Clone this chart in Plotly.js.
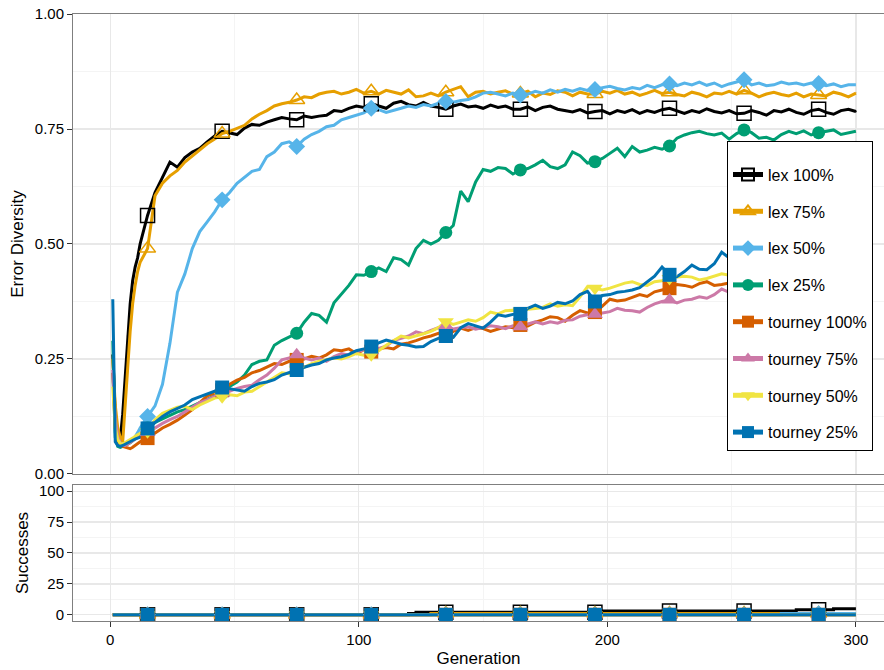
<!DOCTYPE html>
<html><head><meta charset="utf-8">
<script src="https://cdn.plot.ly/plotly-3.0.1.min.js"></script>
<style>html,body{margin:0;padding:0;background:#fff}#chart{width:884px;height:670px}</style>
</head><body><div id="chart"></div>
<script>
// Generations sampled (x values)
const generations = [
  1,2,3,4,5,6,7,8,9,10,
  11,12,15,18,21,24,27,30,33,36,
  39,42,45,48,51,54,57,60,63,66,
  69,72,75,78,81,84,87,90,93,96,
  99,102,105,108,111,114,117,120,123,126,
  129,132,135,138,141,144,147,150,153,156,
  159,162,165,168,171,174,177,180,183,186,
  189,192,195,198,201,204,207,210,213,216,
  219,222,225,228,231,234,237,240,243,246,
  249,252,255,258,261,264,267,270,273,276,
  279,282,285,288,291,294,297,300];

const markerGenerations = [15,45,75,105,135,165,195,225,255,285];

const seriesNames = ['lex 100%','lex 75%','lex 50%','lex 25%','tourney 100%','tourney 75%','tourney 50%','tourney 25%'];

// Error diversity
const divLex100 = [
  0.26,0.13,0.08,0.075,0.13,0.21,0.30,0.37,0.42,0.45,
  0.47,0.50,0.562,0.612,0.645,0.678,0.667,0.688,0.70,0.708,
  0.722,0.735,0.745,0.742,0.738,0.752,0.76,0.758,0.765,0.77,
  0.775,0.772,0.77,0.778,0.775,0.778,0.78,0.79,0.788,0.795,
  0.80,0.797,0.805,0.80,0.795,0.806,0.81,0.803,0.80,0.808,
  0.80,0.797,0.793,0.80,0.804,0.798,0.80,0.795,0.802,0.797,
  0.80,0.793,0.793,0.798,0.79,0.797,0.80,0.793,0.79,0.787,
  0.792,0.785,0.788,0.79,0.783,0.79,0.786,0.792,0.784,0.79,
  0.786,0.792,0.795,0.789,0.784,0.79,0.786,0.794,0.788,0.785,
  0.79,0.783,0.784,0.79,0.786,0.78,0.79,0.787,0.793,0.786,
  0.782,0.79,0.793,0.786,0.782,0.79,0.793,0.788];
const divLex75 = [
  0.25,0.15,0.10,0.08,0.07,0.14,0.23,0.31,0.37,0.41,
  0.44,0.46,0.49,0.605,0.632,0.648,0.66,0.678,0.692,0.705,
  0.718,0.728,0.74,0.745,0.752,0.758,0.772,0.782,0.79,0.80,
  0.805,0.808,0.813,0.82,0.818,0.826,0.83,0.832,0.826,0.83,
  0.836,0.828,0.832,0.826,0.834,0.83,0.826,0.835,0.82,0.822,
  0.828,0.822,0.83,0.836,0.842,0.82,0.83,0.832,0.826,0.83,
  0.833,0.826,0.827,0.832,0.82,0.828,0.825,0.833,0.83,0.822,
  0.83,0.826,0.826,0.832,0.828,0.834,0.826,0.83,0.823,0.828,
  0.834,0.827,0.83,0.825,0.822,0.83,0.826,0.82,0.828,0.826,
  0.832,0.826,0.834,0.828,0.82,0.826,0.83,0.825,0.822,0.828,
  0.82,0.826,0.824,0.822,0.83,0.826,0.82,0.828];
const divLex50 = [
  0.22,0.09,0.07,0.066,0.065,0.067,0.07,0.072,0.076,0.081,
  0.09,0.10,0.125,0.148,0.195,0.284,0.395,0.435,0.49,0.527,
  0.548,0.57,0.596,0.612,0.632,0.645,0.658,0.662,0.69,0.70,
  0.718,0.722,0.712,0.728,0.738,0.745,0.755,0.758,0.77,0.775,
  0.78,0.785,0.795,0.792,0.786,0.79,0.795,0.80,0.797,0.803,
  0.80,0.806,0.81,0.808,0.812,0.814,0.82,0.828,0.83,0.826,
  0.822,0.828,0.824,0.826,0.832,0.828,0.835,0.83,0.836,0.832,
  0.838,0.834,0.836,0.84,0.843,0.838,0.835,0.84,0.837,0.845,
  0.84,0.846,0.848,0.844,0.85,0.846,0.852,0.845,0.85,0.842,
  0.848,0.852,0.857,0.846,0.85,0.844,0.846,0.852,0.848,0.85,
  0.846,0.85,0.849,0.844,0.848,0.842,0.846,0.846];
const divLex25 = [
  0.29,0.08,0.06,0.058,0.06,0.062,0.065,0.068,0.072,0.076,
  0.08,0.085,0.10,0.112,0.12,0.128,0.135,0.14,0.148,0.155,
  0.162,0.17,0.175,0.19,0.20,0.215,0.238,0.245,0.248,0.28,
  0.29,0.298,0.306,0.33,0.349,0.345,0.33,0.372,0.39,0.41,
  0.433,0.432,0.44,0.448,0.44,0.47,0.466,0.454,0.49,0.508,
  0.50,0.508,0.525,0.54,0.615,0.592,0.635,0.662,0.658,0.666,
  0.664,0.652,0.661,0.664,0.672,0.682,0.668,0.664,0.672,0.70,
  0.692,0.676,0.679,0.686,0.697,0.708,0.69,0.712,0.70,0.704,
  0.71,0.706,0.713,0.73,0.737,0.742,0.745,0.74,0.737,0.741,
  0.728,0.74,0.748,0.742,0.73,0.732,0.726,0.738,0.745,0.74,
  0.746,0.737,0.742,0.745,0.748,0.738,0.741,0.745];
const divTourney100 = [
  0.22,0.10,0.075,0.065,0.06,0.058,0.056,0.055,0.058,0.062,
  0.066,0.07,0.078,0.09,0.10,0.108,0.117,0.128,0.14,0.155,
  0.17,0.176,0.182,0.195,0.204,0.21,0.22,0.225,0.232,0.24,
  0.238,0.245,0.248,0.25,0.256,0.252,0.259,0.27,0.268,0.272,
  0.262,0.27,0.266,0.272,0.275,0.272,0.282,0.285,0.29,0.296,
  0.30,0.306,0.30,0.31,0.317,0.312,0.318,0.316,0.31,0.315,
  0.32,0.318,0.324,0.322,0.33,0.335,0.342,0.34,0.332,0.345,
  0.355,0.35,0.352,0.365,0.38,0.376,0.378,0.384,0.39,0.386,
  0.396,0.40,0.404,0.412,0.41,0.406,0.414,0.418,0.41,0.412,
  0.415,0.42,0.418,0.422,0.425,0.42,0.428,0.43,0.426,0.432,
  0.435,0.43,0.436,0.44,0.436,0.442,0.445,0.44];
const divTourney75 = [
  0.226,0.12,0.08,0.068,0.062,0.062,0.065,0.068,0.072,0.076,
  0.08,0.083,0.09,0.10,0.11,0.118,0.125,0.135,0.145,0.155,
  0.161,0.168,0.176,0.18,0.186,0.19,0.193,0.205,0.215,0.23,
  0.248,0.252,0.259,0.252,0.248,0.252,0.245,0.255,0.262,0.258,
  0.265,0.27,0.268,0.273,0.278,0.29,0.295,0.30,0.309,0.305,
  0.312,0.318,0.322,0.315,0.318,0.32,0.315,0.318,0.322,0.32,
  0.316,0.322,0.32,0.326,0.331,0.326,0.331,0.328,0.334,0.335,
  0.343,0.346,0.347,0.35,0.353,0.36,0.356,0.355,0.352,0.362,
  0.37,0.375,0.378,0.372,0.378,0.38,0.385,0.382,0.39,0.402,
  0.395,0.398,0.40,0.396,0.402,0.405,0.40,0.408,0.41,0.405,
  0.412,0.415,0.41,0.416,0.42,0.415,0.42,0.422];
const divTourney50 = [
  0.19,0.10,0.075,0.066,0.065,0.068,0.072,0.075,0.078,0.082,
  0.085,0.088,0.092,0.118,0.132,0.138,0.145,0.147,0.14,0.15,
  0.158,0.165,0.168,0.172,0.17,0.178,0.18,0.19,0.20,0.21,
  0.22,0.218,0.226,0.232,0.24,0.245,0.248,0.252,0.25,0.255,
  0.262,0.258,0.259,0.268,0.28,0.29,0.30,0.296,0.30,0.305,
  0.31,0.318,0.331,0.325,0.33,0.335,0.332,0.34,0.352,0.348,
  0.355,0.356,0.354,0.358,0.36,0.362,0.37,0.365,0.368,0.366,
  0.385,0.407,0.404,0.40,0.404,0.41,0.415,0.418,0.412,0.41,
  0.418,0.42,0.425,0.428,0.43,0.428,0.422,0.425,0.43,0.435,
  0.432,0.438,0.44,0.436,0.442,0.445,0.44,0.448,0.45,0.446,
  0.452,0.455,0.45,0.456,0.46,0.455,0.46,0.462];
const divTourney25 = [
  0.38,0.07,0.062,0.06,0.062,0.065,0.067,0.07,0.073,0.076,
  0.078,0.08,0.099,0.112,0.125,0.135,0.142,0.15,0.162,0.168,
  0.175,0.18,0.188,0.185,0.182,0.18,0.19,0.197,0.20,0.205,
  0.215,0.22,0.226,0.232,0.237,0.24,0.248,0.252,0.255,0.26,
  0.268,0.272,0.277,0.285,0.291,0.287,0.282,0.28,0.276,0.277,
  0.288,0.295,0.30,0.297,0.318,0.327,0.322,0.317,0.33,0.346,
  0.343,0.347,0.348,0.36,0.367,0.36,0.365,0.373,0.37,0.376,
  0.39,0.397,0.375,0.388,0.39,0.395,0.397,0.40,0.405,0.418,
  0.43,0.45,0.433,0.429,0.44,0.454,0.445,0.444,0.457,0.482,
  0.47,0.475,0.478,0.472,0.48,0.485,0.478,0.488,0.49,0.485,
  0.492,0.495,0.49,0.496,0.50,0.494,0.498,0.502];

// Successes
const sucLex100 = [
  0,0,0,0,0,0,0,0,0,0, 0,0,0,0,0,0,0,0,0,0,
  0,0,0,0,0,0,0,0,0,0, 0,0,0,0,0,0,0,0,0,0,
  0,0,0,0,0,0,0,1,2,2, 2,2,2,2,2,2,2,2,2,2,
  2,2,2,2,2,2,2,2,2,2, 2,2,2,3,3,3,3,3,3,3,
  3,3,3,3,3,3,3,3,3,3, 3,3,3,3,3,3,3,3,3,4,
  4,4,4,4,5,5,5,5];
const sucLex75 = [
  0,0,0,0,0,0,0,0,0,0, 0,0,0,0,0,0,0,0,0,0,
  0,0,0,0,0,0,0,0,0,0, 0,0,0,0,0,0,0,0,0,0,
  0,0,0,0,0,0,0,0,0,0, 1,1,1,1,1,1,1,1,1,1,
  1,1,1,1,1,1,1,1,1,1, 1,1,1,1,1,1,1,1,1,1,
  1,1,1,1,1,1,1,1,1,1, 1,1,1,1,1,1,1,1,1,1,
  1,1,1,1,1,1,1,1];
const sucLex50 = [
  0,0,0,0,0,0,0,0,0,0, 0,0,0,0,0,0,0,0,0,0,
  0,0,0,0,0,0,0,0,0,0, 0,0,0,0,0,0,0,0,0,0,
  0,0,0,0,0,0,0,0,0,0, 0,0,0,0,0,0,0,0,0,0,
  0,0,0,0,0,0,0,0,0,0, 0,0,0,0,0,0,0,0,0,0,
  0,0,0,0,0,0,0,0,0,0, 0,0,0,0,0,0,0,1,1,1,
  1,1,1,1,1,1,1,1];
const sucLex25 = [
  0,0,0,0,0,0,0,0,0,0, 0,0,0,0,0,0,0,0,0,0,
  0,0,0,0,0,0,0,0,0,0, 0,0,0,0,0,0,0,0,0,0,
  0,0,0,0,0,0,0,0,0,0, 0,0,0,0,0,0,0,0,0,0,
  0,0,0,0,0,0,0,0,0,0, 0,0,0,0,0,0,0,0,0,0,
  0,0,0,0,0,0,0,0,0,0, 0,0,0,0,0,0,0,0,0,0,
  0,0,0,0,0,0,0,0];
const sucTourney100 = sucLex25.slice();
const sucTourney75 = sucLex25.slice();
const sucTourney50 = sucLex25.slice();
const sucTourney25 = sucLex25.slice();

const diversity = [divLex100, divLex75, divLex50, divLex25, divTourney100, divTourney75, divTourney50, divTourney25];
const successes = [sucLex100, sucLex75, sucLex50, sucLex25, sucTourney100, sucTourney75, sucTourney50, sucTourney25];

const colors = ['#000000','#E69F00','#56B4E9','#009E73','#D55E00','#CC79A7','#F0E442','#0072B2'];
const symbols = ['square-open','triangle-up-open','diamond','circle','square','triangle-up','triangle-down','square'];
const msizes = [14,14,13,13,14,14,14,14];

const mIdx = markerGenerations.map(g => generations.indexOf(g));
const traces = [];

// top panel lines (carry legend)
seriesNames.forEach((n, i) => {
  const open = symbols[i].indexOf('open') >= 0;
  traces.push({
    type: 'scatter', mode: 'lines+markers', x: generations, y: diversity[i],
    xaxis: 'x2', yaxis: 'y2', name: n, legendgroup: n, showlegend: true,
    line: {color: colors[i], width: 3},
    marker: {symbol: symbols[i], color: colors[i], size: 0.01,
             line: {color: colors[i], width: open ? 1.5 : 0}},
    hoverinfo: 'skip'
  });
});
// bottom panel lines
seriesNames.forEach((n, i) => {
  traces.push({
    type: 'scatter', mode: 'lines', x: generations, y: successes[i],
    xaxis: 'x', yaxis: 'y', name: n, legendgroup: n, showlegend: false,
    line: {color: colors[i], width: 3, shape: 'hv'}, hoverinfo: 'skip'
  });
});
// markers
[[diversity, 'x2', 'y2'], [successes, 'x', 'y']].forEach(([data, xa, ya]) => {
  seriesNames.forEach((n, i) => {
    const open = symbols[i].indexOf('open') >= 0;
    traces.push({
      type: 'scatter', mode: 'markers',
      x: mIdx.map(k => generations[k]), y: mIdx.map(k => data[i][k]),
      xaxis: xa, yaxis: ya, name: n, legendgroup: n, showlegend: false,
      marker: {symbol: symbols[i], color: colors[i], size: msizes[i],
               line: {color: colors[i], width: open ? 1.5 : 0}},
      hoverinfo: 'skip'
    });
  });
});

const gridMajor = '#E8E8E8', gridMinor = '#F4F4F4', borderCol = '#7F7F7F';
const fontFam = '"Liberation Sans", Arial, Helvetica, sans-serif';

const layout = {
  width: 884, height: 670,
  margin: {l: 73, r: 0, t: 14, b: 49},
  paper_bgcolor: '#ffffff', plot_bgcolor: '#ffffff',
  font: {family: fontFam, size: 15, color: '#000'},
  showlegend: true,
  legend: {
    x: 0.8064, y: 0.7908, xanchor: 'left', yanchor: 'top',
    bgcolor: '#ffffff', bordercolor: '#000000', borderwidth: 1,
    font: {size: 16, color: '#000'}, traceorder: 'grouped', tracegroupgap: 13,
    itemsizing: 'constant', title: {text: ' ', font: {size: 12}}
  },
  xaxis: {
    domain: [0, 1], anchor: 'y', range: [-15, 311.3],
    tickvals: [0, 100, 200, 300], ticks: 'outside', ticklen: 5, tickcolor: '#333', tickwidth: 1,
    showline: true, linecolor: borderCol, linewidth: 1, mirror: true,
    showgrid: true, gridcolor: gridMajor, gridwidth: 1.2, zeroline: false,
    minor: {tickvals: [50, 150, 250], showgrid: true, gridcolor: gridMinor, gridwidth: 1, ticks: ''},
    tickfont: {size: 15, color: '#000'},
    title: {text: 'Generation', font: {size: 17, color: '#000'}, standoff: 5},
    automargin: false
  },
  xaxis2: {
    domain: [0, 1], anchor: 'y2', range: [-15, 311.3],
    tickvals: [0, 100, 200, 300], showticklabels: false, ticks: '',
    showline: true, linecolor: borderCol, linewidth: 1, mirror: true,
    showgrid: true, gridcolor: gridMajor, gridwidth: 1.2, zeroline: false,
    minor: {tickvals: [50, 150, 250], showgrid: true, gridcolor: gridMinor, gridwidth: 1, ticks: ''}
  },
  yaxis: {
    domain: [0, 0.2241], anchor: 'x', range: [-5, 105],
    tickvals: [0, 25, 50, 75, 100], ticks: 'outside', ticklen: 5, tickcolor: '#333', tickwidth: 1,
    showline: true, linecolor: borderCol, linewidth: 1, mirror: false,
    showgrid: true, gridcolor: gridMajor, gridwidth: 1.2, zeroline: false,
    minor: {tickvals: [12.5, 37.5, 62.5, 87.5], showgrid: true, gridcolor: gridMinor, gridwidth: 1, ticks: ''},
    tickfont: {size: 15, color: '#000'},
    title: {text: 'Successes', font: {size: 17, color: '#000'}, standoff: 6},
    automargin: false
  },
  yaxis2: {
    domain: [0.2422, 1], anchor: 'x2', range: [0, 1],
    tickvals: [0, 0.25, 0.5, 0.75, 1], ticktext: ['0.00', '0.25', '0.50', '0.75', '1.00'],
    ticks: 'outside', ticklen: 5, tickcolor: '#333', tickwidth: 1,
    showline: true, linecolor: borderCol, linewidth: 1, mirror: false,
    showgrid: true, gridcolor: gridMajor, gridwidth: 1.2, zeroline: false,
    minor: {tickvals: [0.125, 0.375, 0.625, 0.875], showgrid: true, gridcolor: gridMinor, gridwidth: 1, ticks: ''},
    tickfont: {size: 15, color: '#000'},
    title: {text: 'Error Diversity', font: {size: 17, color: '#000'}, standoff: 6},
    automargin: false
  }
};

Plotly.newPlot('chart', traces, layout, {staticPlot: true, displayModeBar: false});
</script>
</body></html>
